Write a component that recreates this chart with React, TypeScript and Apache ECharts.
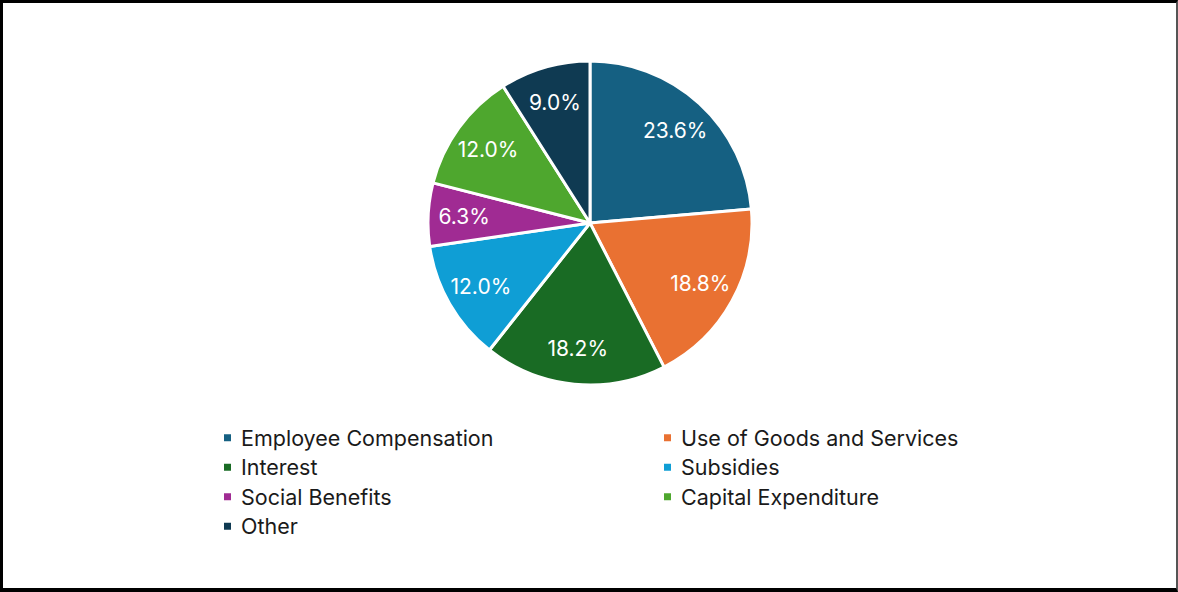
import React, { useEffect, useRef } from "react";
import * as echarts from "echarts";

const categories = [
  "Employee Compensation",
  "Use of Goods and Services",
  "Interest",
  "Subsidies",
  "Social Benefits",
  "Capital Expenditure",
  "Other",
];
const shares = [23.6, 18.8, 18.2, 12.0, 6.3, 12.0, 9.0];
const colors = ["#156082", "#E97132", "#196B24", "#0F9ED5", "#A02B93", "#4EA72E", "#0F3A52"];

export default function App() {
  const ref = useRef<HTMLDivElement>(null);
  useEffect(() => {
    if (!ref.current) return;
    const chart = echarts.init(ref.current, null, { renderer: "svg" });
    const data = categories.map((name, i) => ({
      name,
      value: shares[i],
      itemStyle: { color: colors[i] },
    }));
    const font = "Inter, 'Open Sans', sans-serif";
    chart.setOption({
      animation: false,
      backgroundColor: "#ffffff",
      legend: {
        data: categories,
        left: 222,
        top: 423,
        width: 900,
        padding: 0,
        orient: "horizontal",
        itemGap: 0,
        itemWidth: 9,
        itemHeight: 9,
        icon: "rect",
        selectedMode: false,
        textStyle: {
          fontFamily: font,
          fontSize: 21.5,
          color: "#1a1a1a",
          width: 421,
          lineHeight: 29.5,
          padding: [0, 0, 0, 4],
        },
      },
      series: [
        {
          type: "pie",
          center: [590, 223],
          radius: [0, 162],
          startAngle: 90,
          clockwise: true,
          silent: true,
          data,
          itemStyle: { borderColor: "#ffffff", borderWidth: 3 },
          label: { show: false },
          labelLine: { show: false },
        },
        {
          type: "pie",
          center: [590, 223],
          radius: [0, 246],
          startAngle: 90,
          clockwise: true,
          silent: true,
          data: categories.map((name, i) => ({ name, value: shares[i] })),
          itemStyle: { color: "rgba(0,0,0,0)", borderWidth: 0 },
          label: {
            show: true,
            position: "inside",
            formatter: (p: any) => p.value.toFixed(1) + "%",
            color: "#ffffff",
            fontFamily: font,
            fontSize: 21,
          },
          labelLine: { show: false },
        },
      ],
    });
    return () => chart.dispose();
  }, []);
  return (
    <div style={{ position: "fixed", left: 0, top: 0, width: 1178, height: 592, background: "#fff" }}>
      <div ref={ref} style={{ position: "absolute", left: 0, top: 0, width: 1178, height: 592 }} />
      <div
        style={{
          position: "absolute",
          left: 0,
          top: 0,
          width: 1178,
          height: 592,
          boxSizing: "border-box",
          borderTop: "3px solid #000",
          borderLeft: "3px solid #000",
          borderBottom: "4px solid #000",
          borderRight: "2px solid #555",
          pointerEvents: "none",
        }}
      />
    </div>
  );
}
